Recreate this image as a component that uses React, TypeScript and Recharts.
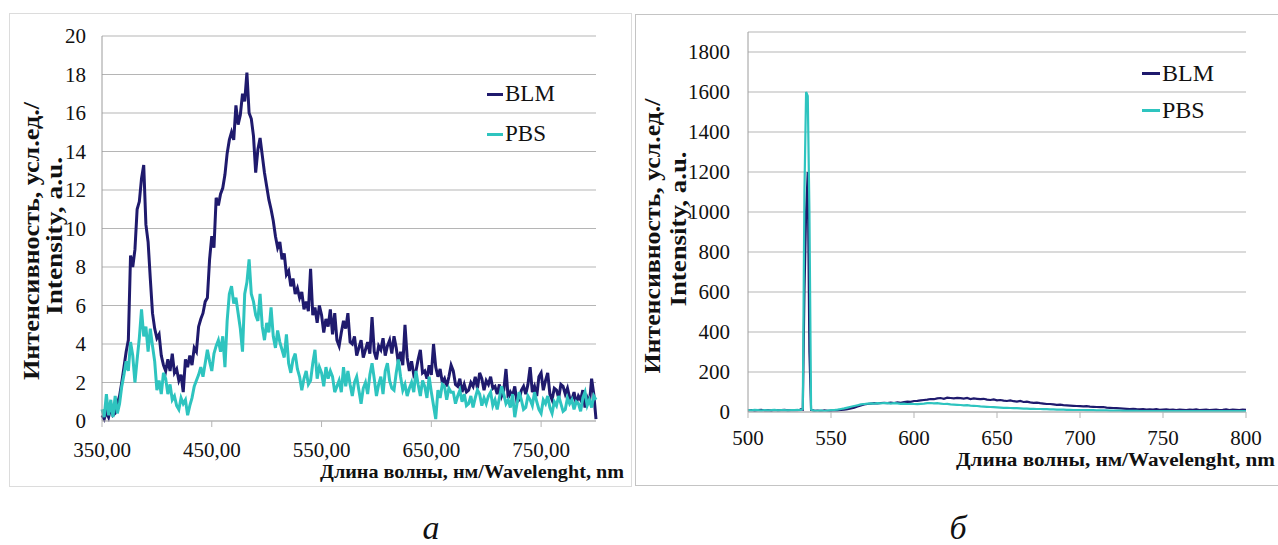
import { LineChart, Line, XAxis, YAxis, CartesianGrid, Legend } from "recharts"

const SERIF = "'Liberation Serif', 'Times New Roman', serif"
const BLM_COLOR = "#1f1a6d"
const PBS_COLOR = "#2ec4bf"
const GRID_COLOR = "#b5b5b5"
const AXIS_COLOR = "#9c9c9c"

// wavelength grid helper (nm)
const span = (from: number, to: number, step: number) => {
  const out: number[] = []
  for (let v = from; v <= to + 1e-9; v += step) out.push(Math.round(v * 10) / 10)
  return out
}

// --- panel а: 350–800 nm, every 2 nm ---
const nmA = span(350, 800, 2)

const blmA = [
  0.3, 0.1, 0.5, 0.2, 0.7, 0.3, 0.4, 0.9, 1.3, 2.0,
  2.8, 3.6, 4.2, 8.6, 8.0, 8.9, 11.0, 11.4, 12.6, 13.3,
  10.2, 9.3, 7.4, 5.6, 4.8, 4.3, 4.5, 3.4, 2.9, 2.6,
  3.2, 2.6, 3.5, 2.5, 2.7, 2.1, 2.4, 1.5, 3.2, 2.8,
  3.4, 2.9, 3.8, 3.6, 4.9, 5.3, 5.6, 6.2, 6.4, 8.4,
  9.6, 9.0, 11.6, 11.2, 11.8, 12.1, 12.8, 13.9, 14.6, 15.0,
  14.6, 16.4, 15.4, 15.9, 17.0, 16.6, 18.1, 16.0, 15.7, 14.8,
  12.9, 14.1, 14.7, 13.8, 12.9, 12.2, 11.5, 11.0, 10.4, 9.6,
  9.0, 9.3, 8.4, 8.7, 7.6, 7.8, 7.0, 7.4, 6.6, 6.9,
  6.4, 6.7, 5.8, 6.2, 5.7, 7.9, 5.5, 5.9, 5.1, 6.0,
  5.5, 4.6, 5.3, 4.9, 5.8, 4.5, 5.6, 4.2, 3.9, 4.6,
  5.2, 4.8, 5.6, 4.1, 4.0, 4.4, 3.4, 3.8, 4.2, 3.3,
  3.7, 4.1, 3.5, 5.4, 3.6, 3.2, 3.9, 3.7, 4.3, 3.4,
  3.9, 4.2, 3.5, 4.4, 3.8, 3.0, 3.6, 2.9, 5.0, 3.3,
  2.6, 3.1, 2.4, 2.6, 3.2, 3.7, 2.5, 2.6, 2.2, 2.9,
  2.4, 4.0, 2.8, 2.3, 2.7, 2.0, 2.2, 1.8, 2.3, 2.9,
  2.6, 1.9, 1.8, 2.2, 1.5, 1.9, 1.5, 1.6, 2.0, 1.8,
  2.3, 1.7, 2.5, 2.2, 1.6, 2.1, 1.9, 2.3, 1.7, 1.8,
  1.4, 1.9, 1.3, 1.6, 2.7, 1.2, 1.5, 1.3, 1.8, 1.0,
  1.1, 1.6, 1.8, 1.4, 1.9, 2.8, 1.5, 1.8, 1.3, 2.3,
  2.5, 1.6, 2.1, 2.5, 1.4, 1.1, 1.7, 1.6, 1.2, 1.9,
  1.8, 1.4, 1.7, 1.2, 1.1, 1.5, 0.9, 1.3, 1.1, 1.6,
  0.7, 1.2, 0.9, 2.2, 1.4, 0.1,
]

const pbsA = [
  0.6, 0.2, 1.4, 0.3, 1.1, 0.2, 1.3, 0.4, 0.9, 1.8,
  2.4, 3.1, 2.6, 4.1, 3.4, 2.0, 3.2, 4.3, 5.8, 4.4,
  4.9, 3.6, 4.8, 3.9, 3.1, 1.6, 2.1, 1.4, 2.5, 2.2,
  1.4, 1.9, 1.1, 1.3, 0.8, 0.6, 1.2, 0.9, 1.1, 0.3,
  0.8, 1.2, 1.8, 2.1, 2.4, 2.8, 2.3, 3.0, 3.7, 3.1,
  2.6, 3.5, 3.9, 4.2, 3.6, 4.4, 2.8, 5.2, 6.6, 7.0,
  6.1, 6.4, 5.6, 4.8, 3.6, 6.6, 7.2, 8.4, 6.6, 6.2,
  5.5, 5.2, 6.6, 4.9, 4.2, 5.1, 4.6, 5.9, 4.4, 3.8,
  4.7, 4.1, 3.7, 3.3, 4.5, 3.0, 2.5, 3.2, 3.5, 2.7,
  2.3, 1.6, 2.2, 2.6, 1.9, 2.1, 3.0, 3.7, 2.2, 2.8,
  2.5, 1.8, 2.8, 2.2, 2.6, 2.3, 1.5, 1.8, 2.1, 1.5,
  2.8, 1.8, 2.6, 1.9, 1.3, 2.0, 2.3, 1.6, 0.9, 1.7,
  2.0, 1.4, 2.4, 3.0, 2.2, 1.3, 1.9, 2.3, 1.4, 2.6,
  3.0, 2.1, 1.7, 1.6, 2.5, 3.2, 2.3, 1.6, 1.9, 1.3,
  1.7, 2.0, 1.5, 2.6, 1.9, 1.3, 2.1, 1.8, 1.2, 2.3,
  1.5, 0.8, 0.1, 1.6, 1.2, 1.9, 1.8, 1.1, 1.7, 1.5,
  1.5, 0.9, 1.3, 1.6, 1.0, 1.4, 0.8, 0.9, 1.3, 0.7,
  1.2, 1.6, 1.4, 0.8, 1.2, 0.9, 1.3, 1.5, 0.8, 1.1,
  0.6, 1.2, 1.8, 1.4, 0.9, 1.1, 0.7, 1.4, 0.2, 0.9,
  1.5, 1.1, 0.6, 0.7, 1.3, 1.1, 0.8, 1.5, 1.0, 0.6,
  0.4, 1.1, 0.9, 1.3, 0.7, 0.4, 1.0, 0.8, 1.3, 0.9,
  0.5, 0.6, 1.2, 0.9, 1.1, 0.6, 1.0, 0.9, 0.5, 1.2,
  1.5, 0.8, 1.1, 0.7, 1.3, 1.1,
]

const xTicksA = [350, 450, 550, 650, 750]
const yTicksA = [0, 2, 4, 6, 8, 10, 12, 14, 16, 18, 20]

// --- panel б: 500–800 nm, finer sampling around the 535 nm line ---
const nmB = [...span(500, 530, 2), ...span(531, 539, 1), ...span(540, 800, 2)]

const blmB = [
  8, 10, 7, 9, 11, 8, 9, 7, 10, 8, 9, 11, 8, 9, 10, 9,
  10, 14, 12, 600, 1000, 1200, 300, 10, 9,
  6, 7, 5, 8, 6, 7, 9, 8, 10, 12, 14,
  18, 22, 28, 33, 38, 40, 42, 44, 43, 45,
  46, 44, 47, 45, 48, 46, 50, 52, 51, 55,
  56, 58, 60, 62, 65, 64, 68, 70, 66, 72,
  70, 68, 71, 69, 67, 70, 65, 68, 66, 64,
  66, 62, 60, 63, 58, 60, 57, 55, 58, 54,
  52, 55, 50, 52, 48, 46, 47, 44, 42, 40,
  40, 38, 36, 37, 34, 33, 32, 31, 30, 29,
  28, 29, 27, 26, 25, 24, 25, 22, 21, 20,
  19, 18, 17, 16, 15, 16, 14, 13, 15, 12,
  13, 12, 14, 11, 12, 13, 11, 12, 10, 12,
  11, 10, 12, 11, 13, 10, 11, 12, 10, 11,
  12, 10, 11, 13, 10, 12, 11, 10, 12, 11,
]

const pbsB = [
  10, 8, 11, 9, 7, 10, 8, 9, 11, 8, 10, 9, 8, 10, 9, 11,
  9, 10, 15, 1100, 1600, 1580, 1000, 12, 8,
  7, 6, 8, 5, 7, 9, 10, 12, 15, 18, 22,
  26, 30, 34, 38, 40, 42, 43, 42, 44, 43,
  45, 44, 42, 44, 43, 41, 42, 40, 41, 40,
  39, 41, 42, 44, 45, 43, 44, 42, 40, 41,
  38, 37, 36, 35, 33, 34, 32, 31, 30, 28,
  27, 26, 25, 24, 23, 22, 21, 21, 20, 19,
  19, 18, 17, 17, 16, 16, 15, 15, 14, 14,
  13, 13, 12, 12, 12, 11, 11, 10, 10, 10,
  10, 9, 9, 9, 8, 8, 8, 8, 7, 7,
  7, 7, 6, 6, 6, 6, 6, 5, 5, 5,
  5, 5, 5, 5, 4, 5, 4, 4, 5, 4,
  4, 4, 4, 5, 4, 4, 4, 4, 5, 4,
  4, 4, 4, 4, 5, 4, 4, 4, 4, 5,
]

const xTicksB = [500, 550, 600, 650, 700, 750, 800]
const yTicksB = [0, 200, 400, 600, 800, 1000, 1200, 1400, 1600, 1800]

const rowsA = nmA.map((nm, i) => ({ nm, blm: blmA[i], pbs: pbsA[i] }))
const rowsB = nmB.map((nm, i) => ({ nm, blm: blmB[i], pbs: pbsB[i] }))

const tickStyle = { fontFamily: SERIF, fontSize: 21, fill: "#111" }

function DashLegend({ payload, fontSize, rowHeight, dash }: any) {
  return (
    <div style={{ fontFamily: SERIF, fontSize, lineHeight: `${rowHeight}px`, color: "#111" }}>
      {(payload || []).map((p: any) => (
        <div key={p.value} style={{ display: "flex", alignItems: "center" }}>
          <span style={{ display: "inline-block", width: dash, height: 3, background: p.color, marginRight: 2 }} />
          <span>{p.value}</span>
        </div>
      ))}
    </div>
  )
}

function PanelA() {
  return (
    <LineChart width={640} height={490} data={rowsA} margin={{ top: 36, right: 44, left: 42, bottom: 39 }}>
      <CartesianGrid vertical={false} stroke={GRID_COLOR} />
      <XAxis
        dataKey="nm"
        type="number"
        domain={[350, 800]}
        ticks={xTicksA}
        height={30}
        tickSize={6}
        tickMargin={15}
        tickFormatter={(v: number) => v.toFixed(2).replace(".", ",")}
        tick={tickStyle}
        stroke={GRID_COLOR}
      />
      <YAxis
        type="number"
        domain={[0, 20]}
        ticks={yTicksA}
        width={60}
        tickSize={0}
        tickMargin={16}
        tickLine={false}
        tick={tickStyle}
        stroke={AXIS_COLOR}
      />
      <Legend
        layout="vertical"
        align="center"
        verticalAlign="middle"
        wrapperStyle={{ left: 487, top: 74, width: 90 }}
        content={(props: any) => <DashLegend {...props} fontSize={23} rowHeight={40} dash={16} />}
      />
      <Line type="linear" dataKey="blm" name="BLM" stroke={BLM_COLOR} strokeWidth={3} dot={false} isAnimationActive={false} />
      <Line type="linear" dataKey="pbs" name="PBS" stroke={PBS_COLOR} strokeWidth={3} dot={false} isAnimationActive={false} />
    </LineChart>
  )
}

function PanelB() {
  return (
    <LineChart width={643} height={490} data={rowsB} margin={{ top: 32, right: 32, left: 43, bottom: 48 }}>
      <CartesianGrid vertical={false} stroke={GRID_COLOR} />
      <XAxis
        dataKey="nm"
        type="number"
        domain={[500, 800]}
        ticks={xTicksB}
        height={30}
        tickSize={6}
        tickMargin={12}
        tick={tickStyle}
        stroke={GRID_COLOR}
      />
      <YAxis
        type="number"
        domain={[0, 1900]}
        ticks={yTicksB}
        width={70}
        tickSize={0}
        tickMargin={18}
        tickLine={false}
        tick={tickStyle}
        stroke={AXIS_COLOR}
      />
      <Legend
        layout="vertical"
        align="center"
        verticalAlign="middle"
        wrapperStyle={{ left: 507, top: 55, width: 100 }}
        content={(props: any) => <DashLegend {...props} fontSize={24} rowHeight={37} dash={18} />}
      />
      <Line type="linear" dataKey="blm" name="BLM" stroke={BLM_COLOR} strokeWidth={2.2} dot={false} isAnimationActive={false} />
      <Line type="linear" dataKey="pbs" name="PBS" stroke={PBS_COLOR} strokeWidth={2.2} dot={false} isAnimationActive={false} />
    </LineChart>
  )
}

// axis titles, frames and panel letters
function Annotations() {
  const title = { fontFamily: SERIF, fontWeight: 700, fill: "#111" }
  return (
    <svg width={1278} height={545} style={{ position: "absolute", left: 0, top: 0 }}>
      <rect x={9.5} y={13.5} width={622} height={473} fill="none" stroke="#dcdcdc" />
      <rect x={635.5} y={14.5} width={650} height={471} fill="none" stroke="#c4c4c4" />

      <text transform="translate(39,241) rotate(-90)" textAnchor="middle" fontSize={24} textLength={278} lengthAdjust="spacingAndGlyphs" {...title}>
        Интенсивность, усл.ед./
      </text>
      <text transform="translate(62,236) rotate(-90)" textAnchor="middle" fontSize={24} textLength={158} lengthAdjust="spacingAndGlyphs" {...title}>
        Intensity, a.u.
      </text>
      <text x={624} y={478} textAnchor="end" fontSize={19} textLength={304} lengthAdjust="spacingAndGlyphs" {...title}>
        Длина волны, нм/Wavelenght, nm
      </text>

      <text transform="translate(660,236) rotate(-90)" textAnchor="middle" fontSize={24} textLength={275} lengthAdjust="spacingAndGlyphs" {...title}>
        Интенсивность, усл.ед./
      </text>
      <text transform="translate(686,229) rotate(-90)" textAnchor="middle" fontSize={24} textLength={155} lengthAdjust="spacingAndGlyphs" {...title}>
        Intensity, a.u.
      </text>
      <text x={1275} y={466} textAnchor="end" fontSize={18} textLength={319} lengthAdjust="spacingAndGlyphs" {...title}>
        Длина волны, нм/Wavelenght, nm
      </text>

      <text x={431} y={539} textAnchor="middle" fontSize={34} fontStyle="italic" fontFamily={SERIF} fill="#111">
        а
      </text>
      <text x={958} y={539} textAnchor="middle" fontSize={34} fontStyle="italic" fontFamily={SERIF} fill="#111">
        б
      </text>
    </svg>
  )
}

export default function App() {
  return (
    <div style={{ position: "absolute", left: 0, top: 0, width: 1278, height: 545, background: "#fff", overflow: "hidden" }}>
      <Annotations />
      <div style={{ position: "absolute", left: 0, top: 0 }}>
        <PanelA />
      </div>
      <div style={{ position: "absolute", left: 635, top: 0 }}>
        <PanelB />
      </div>
    </div>
  )
}
